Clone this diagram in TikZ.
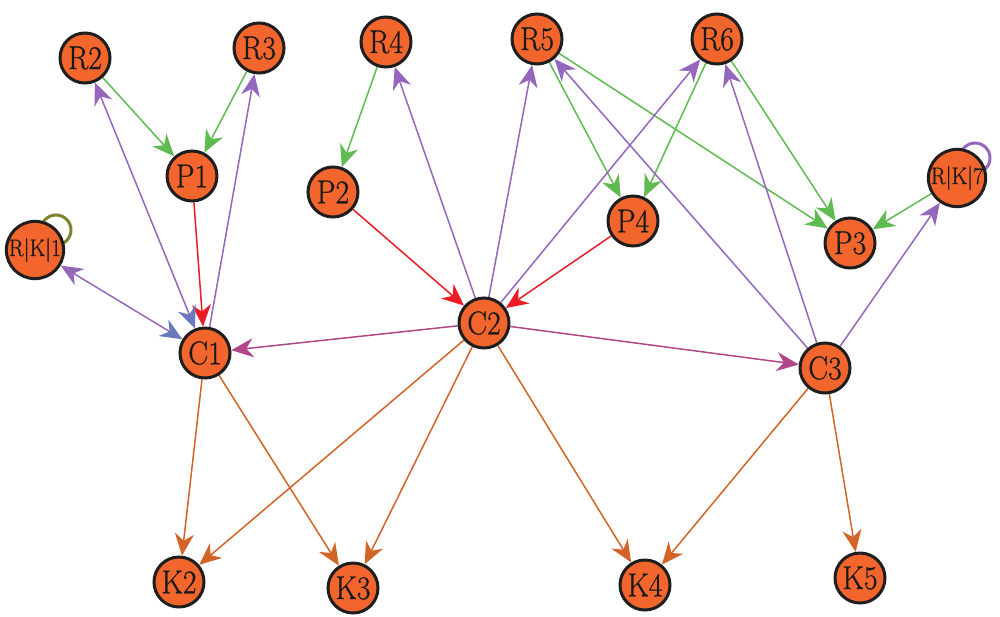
\documentclass[tikz,border=0pt]{standalone}
\usepackage{fontspec}
\usepackage{graphicx}
\newfontfamily\lblfont{Latin Modern Roman}[FakeBold=0.8]
\usetikzlibrary{arrows.meta,backgrounds}
\definecolor{nodefill}{RGB}{242,101,45}
\definecolor{nodeline}{RGB}{30,30,30}
\definecolor{egreen}{RGB}{96,186,82}
\definecolor{epurple}{RGB}{148,103,189}
\definecolor{ered}{RGB}{236,28,36}
\definecolor{emag}{RGB}{176,70,135}
\definecolor{eorange}{RGB}{210,100,40}
\definecolor{tipblue}{RGB}{108,120,189}
\definecolor{eolive}{RGB}{128,130,50}
\newcommand{\lbl}[1]{\scalebox{0.9}[1]{#1}}
\tikzset{
  vtx/.style={circle,draw=nodeline,fill=nodefill,line width=3pt,minimum size=50pt,inner sep=0pt,font=\lblfont\fontsize{33}{34}\selectfont,text=black!90},
  vtxs/.style={vtx,font=\lblfont\fontsize{24}{25}\selectfont},
  arrtip/.style={-{Stealth[length=22pt,width=19pt,inset=7pt]}},
  ge/.style={egreen,line width=1.5pt,arrtip},
  pe/.style={epurple,line width=1.5pt,arrtip},
  re/.style={ered,line width=1.5pt,arrtip},
  me/.style={emag,line width=1.5pt,arrtip},
  oe/.style={eorange,line width=1.5pt,arrtip},
  be/.style={epurple,line width=1.5pt,{Stealth[length=22pt,width=19pt,inset=7pt,color=tipblue]}-{Stealth[length=22pt,width=19pt,inset=7pt]}},
  loope/.style={line width=3pt}
}
\begin{document}
\begin{tikzpicture}[x=1pt,y=-1pt]
\useasboundingbox (0,0) rectangle (1000,616);
\node[vtx] (R2) at (85,58) {\lbl{R2}};
\node[vtx] (R3) at (259,48) {\lbl{R3}};
\node[vtx] (R4) at (386,42) {\lbl{R4}};
\node[vtx] (R5) at (537,39) {\lbl{R5}};
\node[vtx] (R6) at (717,39) {\lbl{R6}};
\node[vtx] (P1) at (192,176) {\lbl{P1}};
\node[vtx] (P2) at (333,192) {\lbl{P2}};
\node[vtx] (P4) at (633,221) {\lbl{P4}};
\node[vtx] (P3) at (850,243) {\lbl{P3}};
\node[vtxs] (RKI1) at (35,250) {\lbl{R|K|1}};
\node[vtxs] (RKI7) at (957,178) {\lbl{R|K|7}};
\node[vtx] (C1) at (205,353) {\lbl{C1}};
\node[vtx] (C2) at (484,323) {\lbl{C2}};
\node[vtx] (C3) at (825,368) {\lbl{C3}};
\node[vtx] (K2) at (179,582) {\lbl{K2}};
\node[vtx] (K3) at (353,588) {\lbl{K3}};
\node[vtx] (K4) at (645,585) {\lbl{K4}};
\node[vtx] (K5) at (860,578) {\lbl{K5}};
\begin{scope}[on background layer]
  % self loops
  \draw[loope,eolive] ([shift={(21,-20)}]RKI1.center) circle[radius=15pt];
  \draw[loope,epurple] ([shift={(18,-20)}]RKI7.center) circle[radius=15pt];
  % green
  \draw[ge] (R2) -- (P1);
  \draw[ge] (R3) -- (P1);
  \draw[ge] (R4) -- (P2);
  \draw[ge] (R5) -- (P4);
  \draw[ge] (R6) -- (P4);
  \draw[ge] (R5) -- (P3);
  \draw[ge] (R6) -- (P3);
  \draw[ge] (RKI7) -- (P3);
  % red
  \draw[re] (P1) -- (C1);
  \draw[re] (P2) -- (C2);
  \draw[re] (P4) -- (C2);
  % purple
  \draw[be] (C1) -- (R2);
  \draw[be] (C1) -- (RKI1);
  \draw[pe] (C1) -- (R3);
  \draw[pe] (C2) -- (R4);
  \draw[pe] (C2) -- (R5);
  \draw[pe] (C2) -- (R6);
  \draw[pe] (C3) -- (R5);
  \draw[pe] (C3) -- (R6);
  \draw[pe] (C3) -- (RKI7);
  % magenta
  \draw[me] (C2) -- (C1);
  \draw[me] (C2) -- (C3);
  % orange
  \draw[oe] (C1) -- (K2);
  \draw[oe] (C1) -- (K3);
  \draw[oe] (C2) -- (K2);
  \draw[oe] (C2) -- (K3);
  \draw[oe] (C2) -- (K4);
  \draw[oe] (C3) -- (K4);
  \draw[oe] (C3) -- (K5);
\end{scope}
\end{tikzpicture}
\end{document}
